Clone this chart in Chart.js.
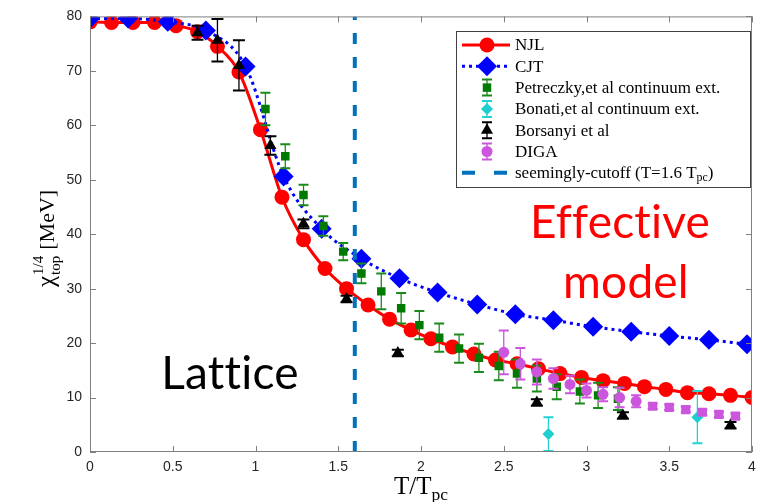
<!DOCTYPE html>
<html>
<head>
<meta charset="utf-8">
<script src="https://cdn.jsdelivr.net/npm/chart.js@4.4.0/dist/chart.umd.min.js"></script>
<style>
  html, body { margin: 0; padding: 0; background: #fff; }
  canvas { display: block; }
</style>
</head>
<body>
<canvas id="myChart" width="767" height="502"></canvas>
<script>
// tick labels
var xTicks = [0, 0.5, 1, 1.5, 2, 2.5, 3, 3.5, 4];
var yTicks = [0, 10, 20, 30, 40, 50, 60, 70, 80];

// NJL (red, solid)
var njlT = [0, 0.13, 0.26, 0.39, 0.52, 0.65, 0.77, 0.90, 1.03, 1.16, 1.29, 1.42, 1.55, 1.68, 1.81, 1.94, 2.06, 2.19, 2.32, 2.45, 2.58, 2.71, 2.84, 2.97, 3.10, 3.23, 3.35, 3.48, 3.61, 3.74, 3.87, 4.00];
var njlVal = [79.0, 78.9, 78.9, 78.9, 78.3, 77.2, 74.5, 69.8, 59.2, 46.8, 39.0, 33.7, 30.0, 27.0, 24.4, 22.4, 20.8, 19.3, 18.0, 16.9, 16.2, 15.3, 14.4, 13.7, 13.1, 12.6, 12.0, 11.5, 10.9, 10.7, 10.4, 10.0];

// CJT (blue, dotted)
var cjtT = [0, 0.23, 0.47, 0.70, 0.94, 1.17, 1.40, 1.64, 1.87, 2.10, 2.34, 2.57, 2.80, 3.04, 3.27, 3.50, 3.74, 3.97];
var cjtVal = [79.6, 79.6, 79.0, 77.4, 70.8, 50.6, 41.0, 35.5, 31.9, 29.3, 27.1, 25.3, 24.2, 23.0, 22.1, 21.3, 20.6, 19.8];

// Petreczky et al
var petT = [1.06, 1.18, 1.29, 1.41, 1.53, 1.64, 1.76, 1.88, 1.99, 2.11, 2.23, 2.35, 2.47, 2.58, 2.70, 2.82, 2.96, 3.07, 3.19];
var petVal = [63.0, 54.3, 47.2, 41.5, 36.8, 32.8, 29.5, 26.4, 23.3, 21.0, 19.0, 17.3, 15.8, 14.4, 13.5, 12.0, 11.1, 10.4, 9.8];
var petErr = [3.0, 2.2, 1.9, 1.8, 1.6, 1.8, 3.3, 2.8, 2.6, 2.6, 2.6, 2.6, 2.6, 2.6, 2.4, 2.3, 2.2, 2.3, 2.1];

// Bonati et al
var bonT = [2.77, 3.67];
var bonVal = [3.3, 6.4];
var bonErr = [3.1, 4.8];

// Borsanyi et al
var borT = [0.65, 0.77, 0.90, 1.09, 1.29, 1.55, 1.86, 2.70, 3.22, 3.87];
var borVal = [77.0, 75.6, 71.0, 56.3, 41.9, 28.1, 18.2, 9.1, 6.7, 4.9];
var borErr = [1.3, 3.9, 4.6, 1.7, 0.8, 0.6, 0.6, 0.6, 0.6, 0.6];

// DIGA
var digaT = [2.50, 2.60, 2.70, 2.80, 2.90, 3.00, 3.10, 3.20, 3.30, 3.40, 3.50, 3.60, 3.70, 3.80, 3.90];
var digaVal = [18.3, 16.2, 14.7, 13.5, 12.4, 11.3, 10.6, 10.0, 9.3, 8.4, 8.2, 7.8, 7.3, 6.9, 6.6];
var digaErr = [4.0, 2.9, 2.3, 1.9, 1.6, 1.3, 1.3, 1.8, 1.1, 0.5, 0.5, 0.5, 0.5, 0.5, 0.5];

// cutoff line
var cutT = [1.6, 1.6];
var cutVal = [0, 80];

function pts(xs, ys) {
    return xs.map(function (t, i) { return { x: t, y: ys[i] }; });
}

var serif = '"Liberation Serif", "Times New Roman", serif';

// draw text with optional sub/superscripts
function richText(ctx, parts, x, y, size) {
    parts.forEach(function (p) {
        var s = p.small ? size * 0.7 : size;
        ctx.font = s + 'px ' + serif;
        var dy = p.sub ? size * 0.25 : 0;
        ctx.fillText(p.t, x, y + dy);
        x += ctx.measureText(p.t).width;
    });
    return x;
}
function richWidth(ctx, parts, size) {
    var w = 0;
    parts.forEach(function (p) {
        ctx.font = (p.small ? size * 0.7 : size) + 'px ' + serif;
        w += ctx.measureText(p.t).width;
    });
    return w;
}

var errorPlugin = {
    id: 'errorBars',
    beforeDatasetDraw: function (chart, args) {
        var ds = chart.data.datasets[args.index];
        if (!ds.errors) return;
        var sx = chart.scales.x, sy = chart.scales.y, ctx = chart.ctx;
        var cap = ds.capWidth || 5;
        ctx.save();
        ctx.strokeStyle = ds.errorColor;
        ds.data.forEach(function (p, i) {
            var e = ds.errors[i];
            var px = sx.getPixelForValue(p.x);
            var top = sy.getPixelForValue(p.y + e);
            var bot = sy.getPixelForValue(p.y - e);
            ctx.lineWidth = 1.3;
            ctx.beginPath();
            ctx.moveTo(px, top); ctx.lineTo(px, bot);
            ctx.stroke();
            ctx.lineWidth = 2;
            ctx.beginPath();
            ctx.moveTo(px - cap, top); ctx.lineTo(px + cap, top);
            ctx.moveTo(px - cap, bot); ctx.lineTo(px + cap, bot);
            ctx.stroke();
        });
        ctx.restore();
    }
};

var decoPlugin = {
    id: 'deco',
    afterDraw: function (chart) {
        var ctx = chart.ctx, a = chart.chartArea;
        var sx = chart.scales.x, sy = chart.scales.y;
        ctx.save();

        // box and inward ticks
        ctx.strokeStyle = '#808080';
        ctx.lineWidth = 1;
        ctx.strokeRect(a.left + 0.5, a.top + 0.5, a.right - a.left - 1, a.bottom - a.top - 1);
        ctx.beginPath();
        xTicks.forEach(function (t) {
            var px = Math.round(sx.getPixelForValue(t)) + 0.5;
            ctx.moveTo(px, a.bottom); ctx.lineTo(px, a.bottom - 6);
            ctx.moveTo(px, a.top); ctx.lineTo(px, a.top + 6);
        });
        yTicks.forEach(function (t) {
            var py = Math.round(sy.getPixelForValue(t)) + 0.5;
            ctx.moveTo(a.left, py); ctx.lineTo(a.left + 6, py);
            ctx.moveTo(a.right, py); ctx.lineTo(a.right - 6, py);
        });
        ctx.stroke();

        // legend
        var lx = 456, ly = 31, lw = 294, lh = 156;
        ctx.fillStyle = '#fff';
        ctx.fillRect(lx, ly, lw, lh);
        ctx.strokeStyle = '#404040';
        ctx.strokeRect(lx + 0.5, ly + 0.5, lw, lh);
        var rowY = ly + 14, rowH = 21.3;
        var sampleL = lx + 6, sampleR = lx + 54, mid = lx + 31, textX = lx + 59;
        chart.data.datasets.forEach(function (ds, i) {
            var y = rowY + i * rowH;
            if (ds.showLine !== false) {
                ctx.save();
                ctx.strokeStyle = ds.borderColor;
                ctx.lineWidth = ds.borderWidth;
                ctx.setLineDash(ds.legendDash || ds.borderDash || []);
                ctx.beginPath();
                ctx.moveTo(sampleL, y); ctx.lineTo(sampleR, y);
                ctx.stroke();
                ctx.restore();
            }
            if (ds.errors) {
                ctx.save();
                ctx.strokeStyle = ds.errorColor;
                ctx.lineWidth = 1.3;
                ctx.beginPath();
                ctx.moveTo(mid, y - 8); ctx.lineTo(mid, y + 8);
                ctx.stroke();
                ctx.lineWidth = 2;
                ctx.beginPath();
                ctx.moveTo(mid - 5, y - 8); ctx.lineTo(mid + 5, y - 8);
                ctx.moveTo(mid - 5, y + 8); ctx.lineTo(mid + 5, y + 8);
                ctx.stroke();
                ctx.restore();
            }
            var r = ds.legendRadius || ds.pointRadius;
            if (r > 0) {
                ctx.save();
                ctx.fillStyle = ds.pointBackgroundColor;
                ctx.strokeStyle = ds.pointBackgroundColor;
                Chart.helpers.drawPoint(ctx, {
                    pointStyle: ds.legendStyle || ds.pointStyle,
                    radius: r,
                    borderWidth: 0,
                    rotation: 0
                }, mid, y);
                ctx.restore();
            }
            ctx.fillStyle = '#000';
            ctx.textBaseline = 'middle';
            ctx.textAlign = 'left';
            richText(ctx, ds.legendParts || [{ t: ds.label }], textX, y + 1, 17);
        });

        // big annotations
        ctx.save();
        ctx.textBaseline = 'alphabetic';
        ctx.textAlign = 'center';
        ctx.letterSpacing = '0.2px'; // no tt ligature
        ctx.font = '46px Lato, "Open Sans", sans-serif';
        ctx.fillStyle = '#000';
        ctx.fillText('Lattice', 230, 389);
        ctx.fillStyle = '#ff0000';
        ctx.fillText('Effective', 620, 238);
        ctx.fillText('model', 626, 298);
        ctx.restore();

        // x axis title
        ctx.fillStyle = '#000';
        ctx.textAlign = 'left';
        ctx.textBaseline = 'alphabetic';
        var xParts = [{ t: 'T/T' }, { t: 'pc', small: true, sub: true }];
        var w = richWidth(ctx, xParts, 25);
        richText(ctx, xParts, (a.left + a.right) / 2 - w / 2, 494, 25);

        // y axis title (rotated)
        ctx.save();
        ctx.translate(54, 235);
        ctx.rotate(-Math.PI / 2);
        var x0 = -52;
        ctx.font = '25px ' + serif;
        ctx.fillText('\u03c7', x0, 0);
        x0 += ctx.measureText('\u03c7').width + 1;
        ctx.font = '15px ' + serif;
        ctx.fillText('1/4', x0, -11);
        var supW = ctx.measureText('1/4').width;
        ctx.fillText('top', x0, 6);
        var subW = ctx.measureText('top').width;
        x0 += Math.max(supW, subW) + 6;
        ctx.font = '22px ' + serif;
        ctx.fillText('[MeV]', x0, 0);
        ctx.restore();

        ctx.restore();
    }
};

var area = document.getElementById('myChart');

new Chart(area, {
    type: 'line',
    data: {
        datasets: [{
            label: 'NJL',
            data: pts(njlT, njlVal),
            borderColor: '#ff0000',
            borderWidth: 3,
            pointRadius: 7.5,
            pointStyle: 'circle',
            pointBackgroundColor: '#ff0000',
            pointBorderWidth: 0,
            cubicInterpolationMode: 'monotone',
            order: 6
        }, {
            label: 'CJT',
            data: pts(cjtT, cjtVal),
            borderColor: '#0000ff',
            borderWidth: 3,
            borderDash: [3, 4],
            pointRadius: 10,
            pointStyle: 'rectRot',
            pointBackgroundColor: '#0000ff',
            pointBorderWidth: 0,
            cubicInterpolationMode: 'monotone',
            order: 5
        }, {
            label: 'Petreczky,et al continuum ext.',
            data: pts(petT, petVal),
            errors: petErr,
            errorColor: '#1a8a1a',
            capWidth: 5,
            showLine: false,
            pointRadius: 6,
            pointStyle: 'rect',
            pointBackgroundColor: '#007a00',
            pointBorderWidth: 0,
            order: 4
        }, {
            label: 'Bonati,et al continuum ext.',
            data: pts(bonT, bonVal),
            errors: bonErr,
            errorColor: '#22d3d3',
            capWidth: 5,
            showLine: false,
            pointRadius: 6,
            pointStyle: 'rectRot',
            pointBackgroundColor: '#1fcfcf',
            pointBorderWidth: 0,
            order: 3
        }, {
            label: 'Borsanyi et al',
            data: pts(borT, borVal),
            errors: borErr,
            errorColor: '#000000',
            capWidth: 6,
            showLine: false,
            pointRadius: 7,
            pointStyle: 'triangle',
            pointBackgroundColor: '#000000',
            pointBorderWidth: 0,
            order: 2
        }, {
            label: 'DIGA',
            data: pts(digaT, digaVal),
            errors: digaErr,
            errorColor: '#cc55dd',
            capWidth: 5,
            showLine: false,
            pointRadius: function (c) { return digaT[c.dataIndex] > 3.35 ? 6.5 : 5.5; },
            legendRadius: 5.5,
            pointStyle: function (c) { return digaT[c.dataIndex] > 3.35 ? 'rect' : 'circle'; },
            legendStyle: 'circle',
            pointBackgroundColor: '#cc55dd',
            pointBorderWidth: 0,
            order: 1
        }, {
            label: 'seemingly-cutoff (T=1.6 Tpc)',
            legendParts: [{ t: 'seemingly-cutoff (T=1.6 T' }, { t: 'pc', small: true, sub: true }, { t: ')' }],
            data: pts(cutT, cutVal),
            borderColor: '#0072bd',
            borderWidth: 4,
            borderDash: [11, 13],
            legendDash: [13, 19],
            pointRadius: 0,
            order: 0
        }]
    },
    options: {
        responsive: false,
        devicePixelRatio: 1,
        animation: false,
        layout: { padding: { top: 13, right: 15, left: 0, bottom: 0 } },
        plugins: {
            legend: { display: false },
            tooltip: { enabled: false }
        },
        scales: {
            x: {
                type: 'linear',
                min: 0,
                max: 4,
                afterBuildTicks: function (s) { s.ticks = xTicks.map(function (v) { return { value: v }; }); },
                afterFit: function (s) { s.height = 50; },
                grid: { display: false, drawTicks: false },
                border: { display: false },
                ticks: {
                    padding: 7,
                    color: '#262626',
                    font: { family: '"Liberation Sans", Arial, sans-serif', size: 14 },
                    callback: function (v) { return String(v); }
                }
            },
            y: {
                type: 'linear',
                min: 0,
                max: 80,
                afterBuildTicks: function (s) { s.ticks = yTicks.map(function (v) { return { value: v }; }); },
                afterFit: function (s) { s.width = 90; },
                grid: { display: false, drawTicks: false },
                border: { display: false },
                ticks: {
                    padding: 8,
                    color: '#262626',
                    font: { family: '"Liberation Sans", Arial, sans-serif', size: 14 },
                    callback: function (v) { return String(v); }
                }
            }
        }
    },
    plugins: [errorPlugin, decoPlugin]
});
</script>
</body>
</html>
